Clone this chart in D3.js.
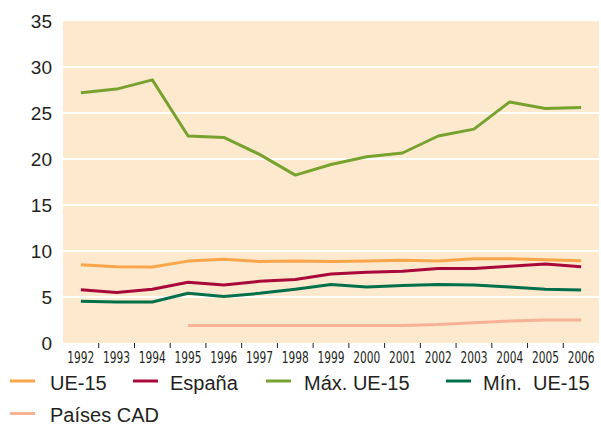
<!DOCTYPE html>
<html>
<head>
<meta charset="utf-8">
<script src="https://cdn.jsdelivr.net/npm/d3@7"></script>
<style>
	body { margin: 0; background: #fff; }
	svg { display: block; }
</style>
</head>
<body>
<div id="chart"></div>
<script>
var years = ["1992", "1993", "1994", "1995", "1996", "1997", "1998", "1999", "2000", "2001", "2002", "2003", "2004", "2005", "2006"];
var yTicks = [0, 5, 10, 15, 20, 25, 30, 35];

var ue15 = [8.5, 8.3, 8.25, 8.9, 9.1, 8.85, 8.9, 8.85, 8.9, 9.0, 8.9, 9.15, 9.15, 9.05, 8.95];
var espana = [5.8, 5.5, 5.85, 6.6, 6.3, 6.7, 6.9, 7.5, 7.7, 7.8, 8.1, 8.1, 8.35, 8.6, 8.3];
var maxUe15 = [27.2, 27.6, 28.6, 22.5, 22.35, 20.5, 18.25, 19.4, 20.25, 20.65, 22.5, 23.25, 26.2, 25.5, 25.6];
var minUe15 = [4.55, 4.45, 4.45, 5.4, 5.05, 5.4, 5.85, 6.35, 6.1, 6.25, 6.35, 6.3, 6.1, 5.85, 5.75];
var paisesCad = [null, null, null, 1.9, 1.9, 1.9, 1.9, 1.9, 1.9, 1.9, 2.0, 2.2, 2.4, 2.5, 2.5];

var seriesNames = ["UE-15", "España", "Máx. UE-15", "Mín.  UE-15", "Países CAD"];
var seriesData = [ue15, espana, maxUe15, minUe15, paisesCad];
var colors = ["#f9a64a", "#a8083a", "#78a22f", "#00704a", "#f7b197"];

var width = 601;
var height = 425;
var margin = {top: 21, right: 2, bottom: 82, left: 63};
var figw = width - margin.left - margin.right;
var figh = height - margin.top - margin.bottom;

var svg = d3.select("#chart").append("svg")
	.attr("width", width)
	.attr("height", height);

var x = d3.scaleBand()
	.domain(years)
	.range([margin.left, margin.left + figw]);
var y = d3.scaleLinear()
	.domain([0, 35])
	.range([margin.top + figh, margin.top]);

// panel background
svg.append("rect")
	.attr("x", margin.left)
	.attr("y", margin.top)
	.attr("width", figw)
	.attr("height", figh)
	.attr("fill", "#fde9cd");

// white gridlines
svg.selectAll(".grid")
	.data(yTicks.filter(function(d) { return d > 0 && d < 35; }))
	.enter().append("line")
	.attr("class", "grid")
	.attr("x1", margin.left)
	.attr("x2", margin.left + figw)
	.attr("y1", function(d) { return y(d); })
	.attr("y2", function(d) { return y(d); })
	.style("stroke", "#fff")
	.style("stroke-width", 2);

// y labels
svg.selectAll(".ylab")
	.data(yTicks)
	.enter().append("text")
	.attr("class", "ylab")
	.attr("x", 52)
	.attr("y", function(d) { return y(d) + 6.5; })
	.attr("text-anchor", "end")
	.style("font-family", "'Liberation Sans', Arial, sans-serif")
	.style("font-size", "19px")
	.style("fill", "#231f20")
	.text(function(d) { return d; });

// x tick marks between years
svg.selectAll(".xtick")
	.data(years.slice(1))
	.enter().append("line")
	.attr("class", "xtick")
	.attr("x1", function(d) { return x(d); })
	.attr("x2", function(d) { return x(d); })
	.attr("y1", margin.top + figh)
	.attr("y2", margin.top + figh + 5)
	.style("stroke", "#231f20")
	.style("stroke-width", 1);

svg.selectAll(".xlab")
	.data(years)
	.enter().append("text")
	.attr("class", "xlab")
	.attr("x", function(d) { return x(d) + x.bandwidth() / 2; })
	.attr("y", 363)
	.attr("text-anchor", "middle")
	.attr("textLength", 27)
	.attr("lengthAdjust", "spacingAndGlyphs")
	.style("font-family", "'Liberation Sans Narrow', 'DejaVu Sans Condensed', 'Liberation Sans', sans-serif")
	.style("font-size", "15px")
	.style("fill", "#231f20")
	.text(function(d) { return d; });

var line = d3.line()
	.defined(function(d) { return d != null; })
	.x(function(d, i) { return x(years[i]) + x.bandwidth() / 2; })
	.y(function(d) { return y(d); });

// draw order: CAD, UE-15, España, Mín, Máx
var order = [4, 0, 1, 3, 2];
order.forEach(function(k) {
	svg.append("path")
		.datum(seriesData[k])
		.attr("d", line)
		.attr("fill", "none")
		.style("stroke", colors[k])
		.style("stroke-width", 3)
		.style("stroke-linejoin", "round");
});

// legend
var legendPos = [
	{x: 10, y: 381, tx: 50},
	{x: 133, y: 381, tx: 170},
	{x: 266, y: 381, tx: 304},
	{x: 446, y: 381, tx: 483},
	{x: 10, y: 413.5, tx: 50}
];
seriesNames.forEach(function(name, i) {
	var p = legendPos[i];
	svg.append("line")
		.attr("x1", p.x)
		.attr("x2", p.x + 25)
		.attr("y1", p.y)
		.attr("y2", p.y)
		.style("stroke", colors[i])
		.style("stroke-width", 3);
	svg.append("text")
		.attr("x", p.tx)
		.attr("y", p.y + 8.5)
		.style("font-family", "'Liberation Sans', Arial, sans-serif")
		.style("font-size", "20px")
		.style("fill", "#231f20")
		.style("white-space", "pre")
		.attr("xml:space", "preserve")
		.text(name);
});
</script>
</body>
</html>
